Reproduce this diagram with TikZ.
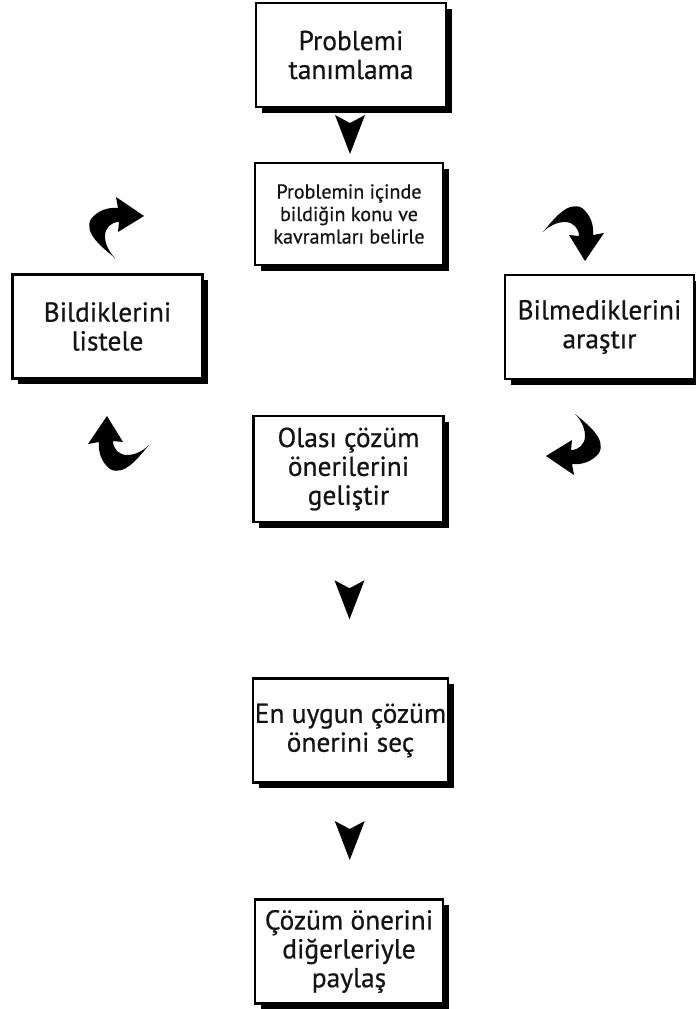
\documentclass[tikz,border=0pt]{standalone}
\usepackage{fontspec}
\setmainfont{PT Sans}
\newfontfamily\kalin{PT Sans}[FakeBold=0.6]
\usepackage{tikz}
\usetikzlibrary{calc}
\usetikzlibrary{shadows}
\definecolor{yazi}{RGB}{20,20,20}

\tikzset{
  ucgen/.pic={\fill (-15,-20) -- (0,-12) -- (15,-20) -- (0,19) -- cycle;},
  donok/.pic={\fill (2,30) .. controls (-10,20) and (-30,5) .. (-22,-9)
     .. controls (-15,-18) and (-4,-21) .. (5,-20) -- (3,-31) -- (31,-12) -- (5,4)
     -- (6,-6) .. controls (-2,-6) and (-8,0) .. (-8,8)
     .. controls (-8,16) and (-4,24) .. (2,30) -- cycle;}
}

\begin{document}
\begin{tikzpicture}[x=0.025cm,y=-0.025cm,
  kutu/.style={draw,line width=1.6pt,fill=white,text=yazi,align=center,inner sep=0pt,
    minimum width=4.75cm,minimum height=2.6cm,font=\kalin\fontsize{19.5}{20.5}\selectfont,
    drop shadow={shadow xshift=0.14cm,shadow yshift=-0.14cm,opacity=1,fill=black}}]
		\useasboundingbox (0,0) rectangle (696,1009);

		\node[kutu] (tanim) at (351,55) {Problemi\\tanımlama};
		\node[kutu,font=\kalin\fontsize{14.3}{16}\selectfont,minimum width=4.7cm,minimum height=2.55cm]
		  (kavram) at (349,214) {Problemin içinde\\bildiğin konu ve\\kavramları belirle};
		\node[kutu] (bildik) at (107.5,326.5) {Bildiklerini\\listele};
		\node[kutu,minimum width=4.725cm] (bilmed) at (599.5,327) {Bilmediklerini\\araştır};
		\node[kutu,minimum height=2.65cm] (olasi) at (348.5,469) {Olası çözüm\\önerilerini\\geliştir};
		\node[kutu,minimum width=4.875cm] (uygun) at (350.5,730.5) {En uygun çözüm\\önerini seç};
		\node[kutu,minimum width=4.7cm] (paylas) at (349,951.5) {Çözüm önerini\\diğerleriyle\\paylaş};

		% asagi oklar
		\pic at ($(tanim.south)!0.5!(kavram.north)$) {ucgen};
		\pic at ($(olasi.south)!0.5!(uygun.north)$) {ucgen};
		\pic at ($(uygun.south)!0.5!(paylas.north)$) {ucgen};

		% dongu oklari
		\pic at (113,228) {donok};
		\pic[rotate=-90] at (573,230) {donok};
		\pic[rotate=180] at (577,444) {donok};
		\pic[rotate=90] at (119,447) {donok};
\end{tikzpicture}
\end{document}
